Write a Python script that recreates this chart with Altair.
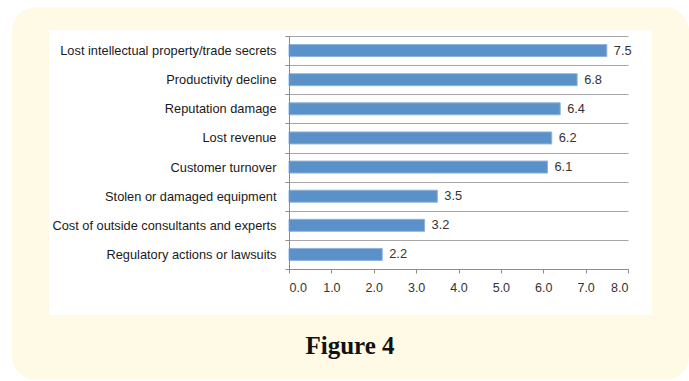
import altair as alt
import pandas as pd

categories = [
    "Lost intellectual property/trade secrets",
    "Productivity decline",
    "Reputation damage",
    "Lost revenue",
    "Customer turnover",
    "Stolen or damaged equipment",
    "Cost of outside consultants and experts",
    "Regulatory actions or lawsuits",
]
values = [7.5, 6.8, 6.4, 6.2, 6.1, 3.5, 3.2, 2.2]
x_ticks = [0, 1, 2, 3, 4, 5, 6, 7, 8]
caption = "Figure 4"

df = pd.DataFrame({"category": categories, "value": values})

W, H = 339, 233
PAD_L, PAD_T = 289, 36

one = alt.Data(values=[{}])

cream = alt.Chart(one).mark_rect(color="#FFFAE6", cornerRadius=24).encode(
    x=alt.value(12 - PAD_L), x2=alt.value(689 - PAD_L),
    y=alt.value(7 - PAD_T), y2=alt.value(380 - PAD_T),
)
white = alt.Chart(one).mark_rect(color="#FFFFFF").encode(
    x=alt.value(49 - PAD_L), x2=alt.value(652 - PAD_L),
    y=alt.value(30 - PAD_T), y2=alt.value(315 - PAD_T),
)

y_enc = alt.Y(
    "category:N", sort=categories, title=None,
    scale=alt.Scale(paddingInner=0, paddingOuter=0),
    axis=alt.Axis(
        tickBand="extent", grid=True, gridColor="#A6A6A6", gridWidth=1,
        domainColor="#8C8C8C", tickColor="#8C8C8C", tickSize=4,
        labelFont="Liberation Sans", labelFontSize=12.8, labelColor="#1A1A1A",
        labelPadding=9, labelLimit=400, zindex=1,
    ),
)
x_enc = alt.X(
    "value:Q", title=None,
    scale=alt.Scale(domain=[0, 8], nice=False),
    axis=alt.Axis(
        values=x_ticks, format=".1f", grid=False,
        domainColor="#8C8C8C", tickColor="#8C8C8C", tickSize=4,
        labelFont="Liberation Sans", labelFontSize=12.5, labelColor="#333333",
        labelPadding=8, zindex=1,
    ),
)

base = alt.Chart(df)
bars = base.mark_bar(size=12, color="#5B91C9", stroke="#8FB3DD", strokeWidth=1).encode(
    x=x_enc, y=y_enc
)
labels = base.mark_text(
    align="left", dx=7, font="Liberation Sans", fontSize=12.8, color="#333333"
).encode(
    x="value:Q", y=alt.Y("category:N", sort=categories),
    text=alt.Text("value:Q", format=".1f"),
)

title_df = pd.DataFrame({"t": [caption]})
title = alt.Chart(title_df).mark_text(
    font="Liberation Serif", fontSize=25, fontWeight="bold", color="#111111",
    align="center", baseline="alphabetic",
).encode(
    x=alt.value(350 - PAD_L), y=alt.value(354 - PAD_T), text="t:N"
)

chart = alt.layer(cream, white, bars, labels, title).properties(
    width=W, height=H,
    autosize=alt.AutoSizeParams(type="none"),
    padding={"left": PAD_L, "top": PAD_T, "right": 689 - PAD_L - W, "bottom": 381 - PAD_T - H},
).configure_view(stroke=None).configure(background="#FFFFFF")

chart.save("out.html", embed_options={"renderer": "svg", "actions": False})
